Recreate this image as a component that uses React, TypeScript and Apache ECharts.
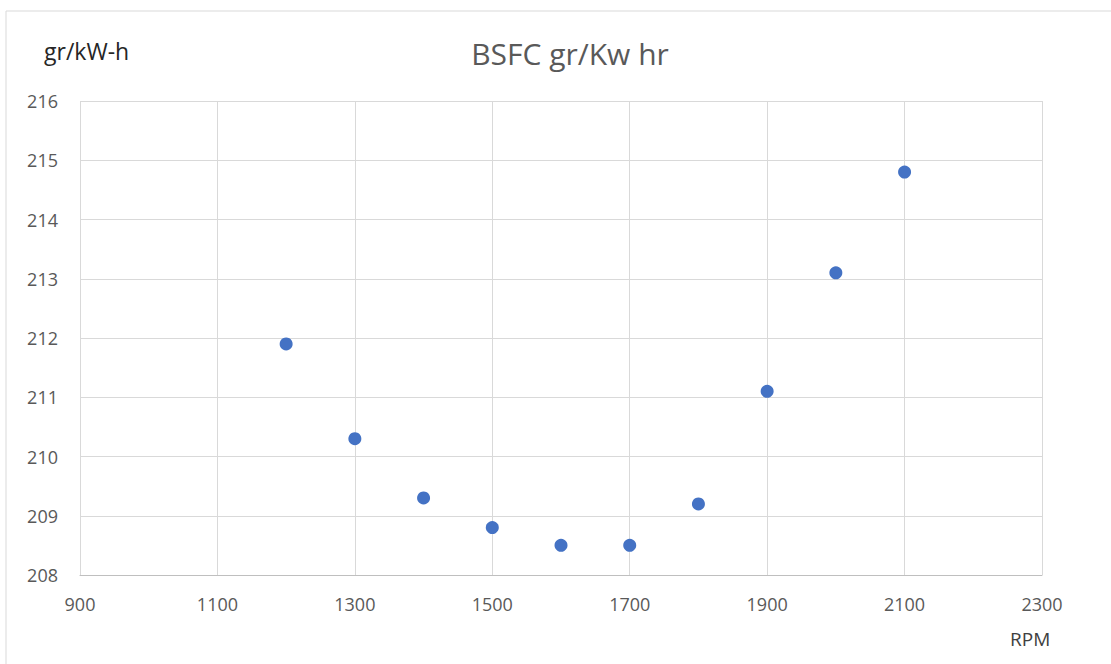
import React, { useEffect, useRef } from "react";
import * as echarts from "echarts";

const rpm = [1200, 1300, 1400, 1500, 1600, 1700, 1800, 1900, 2000, 2100];
const bsfc = [211.9, 210.3, 209.3, 208.8, 208.5, 208.5, 209.2, 211.1, 213.1, 214.8];
const title = "BSFC gr/Kw hr";
const yName = "gr/kW-h";
const xName = "RPM";

export default function App() {
  const ref = useRef<HTMLDivElement>(null);
  useEffect(() => {
    document.body.style.margin = "0";
    const chart = echarts.init(ref.current!, null, { renderer: "svg" });
    const font = "'Open Sans', 'Noto Sans', sans-serif";
    chart.setOption({
      animation: false,
      backgroundColor: "#ffffff",
      textStyle: { fontFamily: font },
      title: {
        text: title,
        left: 565,
        top: 33,
        textAlign: "center",
        textStyle: { fontSize: 30, fontWeight: "normal", color: "#595959", fontFamily: font },
      },
      graphic: [
        {
          type: "rect",
          shape: { x: 6, y: 11, width: 1120, height: 680 },
          style: { fill: "none", stroke: "#d9d9d9", lineWidth: 1 },
          silent: true,
        },
        {
          type: "text",
          left: 44,
          top: 39,
          style: { text: yName, fontSize: 23, fill: "#262626", fontFamily: font },
        },
        {
          type: "text",
          left: 1010,
          top: 629,
          style: { text: xName, fontSize: 19, fill: "#404040", fontFamily: font },
        },
      ],
      grid: { left: 80, right: 69, top: 101, bottom: 89, containLabel: false },
      xAxis: {
        type: "value",
        min: 900,
        max: 2300,
        interval: 200,
        axisLine: { show: true, lineStyle: { color: "#bfbfbf", width: 1 } },
        axisTick: { show: false },
        axisLabel: {
          color: "#595959",
          fontSize: 18,
          margin: 20,
          fontFamily: font,
          formatter: (v: number) => String(v),
        },
        splitLine: { show: true, lineStyle: { color: "#d9d9d9", width: 1 } },
      },
      yAxis: {
        type: "value",
        min: 208,
        max: 216,
        interval: 1,
        axisLine: { show: false },
        axisTick: { show: false },
        axisLabel: {
          color: "#595959",
          fontSize: 18,
          margin: 22,
          fontFamily: font,
          formatter: (v: number) => String(v),
        },
        splitLine: { show: true, lineStyle: { color: "#d9d9d9", width: 1 } },
      },
      series: [
        {
          type: "scatter",
          data: rpm.map((x, i) => [x, bsfc[i]]),
          symbol: "circle",
          symbolSize: 13,
          itemStyle: { color: "#4472c4", opacity: 1 },
        },
      ],
    });
    return () => chart.dispose();
  }, []);
  return <div ref={ref} style={{ width: 1111, height: 664 }} />;
}
